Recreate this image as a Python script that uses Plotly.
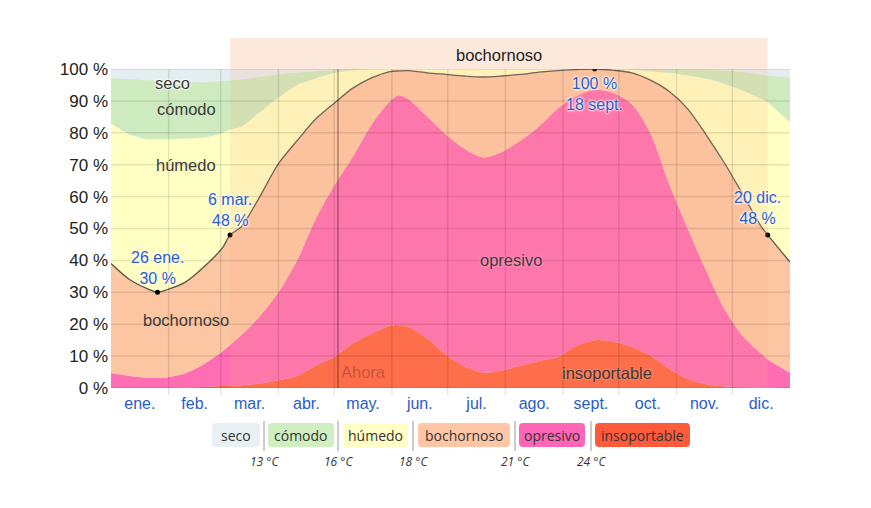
import plotly.graph_objects as go

# ---------------- data (day of year, cumulative % of time at or below each level) ----------------
days = [0, 10, 20, 25, 30, 40, 50, 60, 64, 70, 80, 90, 100, 110, 120, 130, 140, 150, 155, 160, 170,
        180, 190, 200, 210, 220, 230, 240, 250, 260, 270, 280, 290, 300, 310, 320, 330, 340,
        350, 353, 360, 365]

insoportable_top = [0, 0, 0, 0, 0, 0.1, 0.3, 0.6, 0.7, 0.9, 1.4, 2.4, 3.8, 7.0, 9.8, 14.0, 17.0,
                    19.5, 19.7, 19.2, 15.5, 10.5, 6.8, 4.8, 5.5, 7.0, 8.5, 9.7, 13.2, 15.0, 14.6, 12.8,
                    10.2, 6.0, 2.8, 1.2, 0.5, 0.2, 0.1, 0.05, 0, 0]

opresivo_top = [4.7, 3.8, 3.2, 3.1, 3.3, 4.6, 7.5, 11.5, 13.5, 16.5, 22.5, 30.0, 40.0, 53.0, 63.5,
                72.5, 82.5, 90.0, 91.8, 90.5, 85.0, 79.5, 75.0, 72.3, 74.0, 77.5, 82.0, 87.5, 91.5, 93.5,
                92.5, 89.0, 79.8, 64.0, 50.0, 36.7, 24.5, 16.0, 10.5, 9.0, 6.5, 4.8]

bochornoso_top = [39.0, 34.0, 31.0, 30.0, 30.8, 33.2, 38.0, 44.0, 48.0, 50.5, 60.0, 70.3, 77.5, 84.3,
                  89.3, 94.0, 97.2, 99.2, 99.4, 99.5, 98.8, 98.3, 97.8, 97.5, 97.8, 98.3, 99.0, 99.5,
                  99.8, 100.0, 99.6, 98.8, 96.5, 93.0, 87.5, 79.3, 70.3, 60.3, 50.2, 48.0, 43.0, 39.5]

humedo_top = [83.0, 79.5, 78.0, 78.0, 78.0, 78.2, 78.5, 80.0, 81.0, 82.0, 86.5, 91.0, 95.0, 97.0,
              98.8, 99.6, 100, 100, 100, 100, 100, 100, 100, 100, 100, 100, 100, 100, 100, 100, 100,
              99.8, 99.3, 98.8, 98.0, 97.0, 95.3, 93.2, 90.5, 89.6, 86.0, 83.4]

comodo_top = [97.1, 96.8, 96.5, 96.4, 96.2, 96.0, 95.8, 96.2, 96.4, 96.7, 97.5, 98.3, 98.8, 99.3,
              99.7, 100, 100, 100, 100, 100, 100, 100, 100, 100, 100, 100, 100, 100, 100, 100, 100,
              100, 100, 100, 99.9, 99.8, 99.5, 99.0, 98.2, 98.0, 97.6, 97.3]

month_names = ["ene.", "feb.", "mar.", "abr.", "may.", "jun.", "jul.", "ago.", "sept.", "oct.", "nov.", "dic."]
month_starts = [0, 31, 59, 90, 120, 151, 181, 212, 243, 273, 304, 334, 365]

point_days = [25, 64, 260, 353]
point_values = [30, 48, 100, 48]
point_dates = ["26 ene.", "6 mar.", "18 sept.", "20 dic."]

muggy_start, muggy_end = 64, 353
now_day = 122

levels = ["seco", "cómodo", "húmedo", "bochornoso", "opresivo", "insoportable"]
thresholds = ["13 °C", "16 °C", "18 °C", "21 °C", "24 °C"]
y_ticks = [0, 10, 20, 30, 40, 50, 60, 70, 80, 90, 100]

# ---------------- style ----------------
C_SECO = "#e4edf1"
C_COM = "#cdebbf"
C_HUM = "#ffffc3"
C_BOCH = "#fdc6a3"
C_OPR = "#ff6db3"
C_INS = "#ff623f"
BLUE = "#2b5cc4"
FONT = "Arial, Liberation Sans, sans-serif"
LEG_FONT = "Open Sans, Noto Sans, sans-serif"

OFF = 8  # page body margin
W, H = 863, 500
L, R, T, B = 103, 81, 61, 120
PW, PH = W - L - R, H - T - B

fig = go.Figure()

fills = [
    ("insoportable", insoportable_top, C_INS, "tozeroy"),
    ("opresivo", opresivo_top, C_OPR, "tonexty"),
    ("bochornoso", bochornoso_top, C_BOCH, "tonexty"),
    ("húmedo", humedo_top, C_HUM, "tonexty"),
    ("cómodo", comodo_top, C_COM, "tonexty"),
]
for name, ys, col, f in fills:
    fig.add_trace(go.Scatter(x=days, y=ys, name=name, mode="lines", fill=f, fillcolor=col,
                             line=dict(width=0, shape="spline", smoothing=0.8, color=col),
                             hoverinfo="skip", showlegend=False))

fig.add_trace(go.Scatter(x=days, y=bochornoso_top, mode="lines",
                         line=dict(color="rgba(60,60,60,0.85)", width=1.3, shape="spline", smoothing=0.8),
                         hoverinfo="skip", showlegend=False))
fig.add_trace(go.Scatter(x=point_days, y=point_values, mode="markers",
                         marker=dict(color="black", size=5), hoverinfo="skip", showlegend=False,
                         cliponaxis=False))

shapes = []
# muggy period overlay + band
shapes.append(dict(type="rect", xref="x", yref="y", x0=muggy_start, x1=muggy_end, y0=0, y1=100,
                   fillcolor="rgba(250,172,130,0.17)", line=dict(width=0), layer="above"))
shapes.append(dict(type="rect", xref="x", yref="paper", x0=muggy_start, x1=muggy_end, y0=1, y1=1 + 31 / PH,
                   fillcolor="#fde8dc", line=dict(width=0), layer="above"))
# grid
for v in y_ticks:
    shapes.append(dict(type="line", xref="paper", yref="y", x0=0, x1=1, y0=v, y1=v,
                       line=dict(color="rgba(0,0,0,0.10)", width=1.5), layer="above"))
for d in month_starts[1:-1]:
    shapes.append(dict(type="line", xref="x", yref="paper", x0=d, x1=d, y0=-7 / PH, y1=1,
                       line=dict(color="rgba(0,0,0,0.10)", width=1.5), layer="above"))
shapes.append(dict(type="line", xref="x", yref="paper", x0=now_day, x1=now_day, y0=0, y1=1,
                   line=dict(color="rgba(0,0,0,0.28)", width=1.8), layer="above"))


def px2p(px, py):
    # page pixel -> paper coordinates
    return (px - OFF - L) / PW, (H - B - (py - OFF)) / PH


def rrect(x0, x1, y0, y1, r=4):
    P = lambda a, b: "%.5f,%.5f" % px2p(a, b)
    return ("M " + P(x0 + r, y0) + " L " + P(x1 - r, y0) + " Q " + P(x1, y0) + " " + P(x1, y0 + r) +
            " L " + P(x1, y1 - r) + " Q " + P(x1, y1) + " " + P(x1 - r, y1) +
            " L " + P(x0 + r, y1) + " Q " + P(x0, y1) + " " + P(x0, y1 - r) +
            " L " + P(x0, y0 + r) + " Q " + P(x0, y0) + " " + P(x0 + r, y0) + " Z")


leg_cols = ["#e8f0f3", "#d0eec0", "#ffffc6", "#ffc6a6", "#ff66b6", "#ff5a3c"]
leg_x = [(212, 260), (268, 334), (343, 408), (418, 510), (519, 585), (595, 690)]
sep_x = [264, 338, 413, 515, 591]
annotations = []
for (a, b), col, lab in zip(leg_x, leg_cols, levels):
    shapes.append(dict(type="path", xref="paper", yref="paper", path=rrect(a, b, 423, 447),
                       fillcolor=col, line=dict(width=0)))
    cx, cy = px2p((a + b) / 2, 435)
    annotations.append(dict(xref="paper", yref="paper", x=cx, y=cy, xanchor="center", yanchor="middle",
                            text=lab, showarrow=False,
                            font=dict(family=LEG_FONT, size=14, color="#333")))
for sx, t in zip(sep_x, thresholds):
    x0, y0 = px2p(sx, 421)
    _, y1 = px2p(sx, 451)
    shapes.append(dict(type="line", xref="paper", yref="paper", x0=x0, x1=x0, y0=y0, y1=y1,
                       line=dict(color="#999", width=1)))
    _, ty = px2p(sx, 461)
    annotations.append(dict(xref="paper", yref="paper", x=x0, y=ty, xanchor="center", yanchor="middle",
                            text=t, showarrow=False,
                            font=dict(family=LEG_FONT, size=12, color="#333", style="italic")))

halo = "0 0 3px #fff, 0 0 3px #fff, 0 0 2px #fff"
# point labels
offsets = [(0, 24, True), (0, 25, True), (0, -25, False), (-10, 27, True)]
for d, v, lab, (xs, ys, date_first) in zip(point_days, point_values, point_dates, offsets):
    txt = (lab + "<br>" + "%d %%" % v) if date_first else ("%d %%" % v + "<br>" + lab)
    annotations.append(dict(x=d, y=v, xref="x", yref="y", text=txt, showarrow=False,
                            xanchor="center", yanchor="middle",
                            xshift=xs, yshift=ys, align="center",
                            font=dict(family=FONT, size=16, color=BLUE, shadow=halo)))

in_labels = [("seco", 32.8, 95.6, halo), ("cómodo", 40.5, 87.5, "none"), ("húmedo", 40.5, 69.9, "none"),
             ("bochornoso", 40.5, 21.3, "none"), ("opresivo", 215, 40.1, "0 0 3px #ffb0d0"),
             ("insoportable", 266.7, 4.7, "0 0 3px #ffa080")]
for t, xd, yd, sh in in_labels:
    annotations.append(dict(x=xd, y=yd, xref="x", yref="y", text=t, showarrow=False,
                            xanchor="center", yanchor="middle",
                            font=dict(family=FONT, size=16.5, color="#3a3a3a", shadow=sh)))
annotations.append(dict(x=135.5, y=5.0, xref="x", yref="y", text="Ahora", showarrow=False,
                        xanchor="center", yanchor="middle",
                        font=dict(family=FONT, size=16.5, color="rgba(90,40,30,0.35)")))
annotations.append(dict(x=(muggy_start + muggy_end) / 2, y=1 + 14 / PH, xref="x", yref="paper",
                        text="bochornoso", showarrow=False, xanchor="center", yanchor="middle",
                        font=dict(family=FONT, size=16.5, color="#222")))

month_centers = [(month_starts[i] + month_starts[i + 1]) / 2 for i in range(12)]

fig.update_layout(
    width=W, height=H, margin=dict(l=L, r=R, t=T, b=B),
    paper_bgcolor="white", plot_bgcolor=C_SECO,
    shapes=shapes, annotations=annotations, showlegend=False,
    xaxis=dict(range=[0, 365], tickvals=month_centers, ticktext=month_names, showgrid=False,
               zeroline=False, showline=False, ticks="", ticklabelstandoff=4,
               tickfont=dict(family=FONT, size=16, color=BLUE), fixedrange=True),
    yaxis=dict(range=[0, 100], tickvals=y_ticks, ticktext=["%d %%" % v for v in y_ticks], showgrid=False,
               zeroline=False, showline=False, ticks="", ticklabelstandoff=2,
               tickfont=dict(family=FONT, size=17, color="#222"), fixedrange=True),
)

fig.write_html("out.html", config={"displayModeBar": False})
